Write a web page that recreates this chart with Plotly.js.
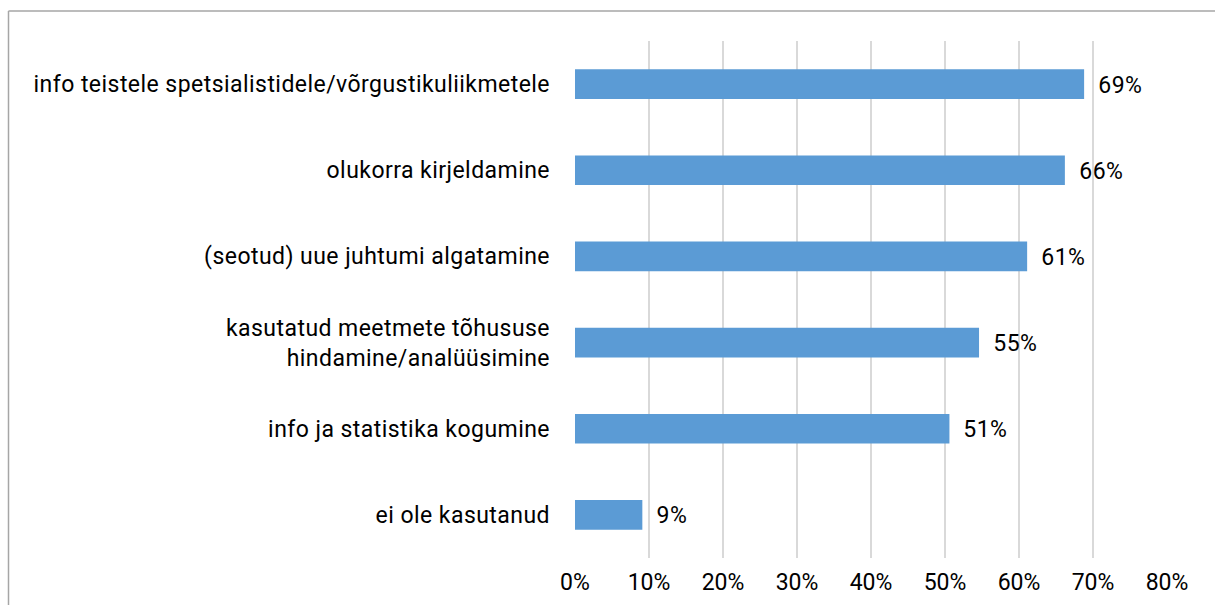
<!DOCTYPE html>
<html>
<head>
<meta charset="utf-8">
<script src="https://cdn.plot.ly/plotly-3.0.1.min.js"></script>
<style>
html,body{margin:0;padding:0;background:#fff;}
#chart{width:1215px;height:605px;}
#chart .ytick text, #chart .annotation-text{letter-spacing:0.45px;}
</style>
</head>
<body>
<div id="chart"></div>
<script>
// Categories, bottom to top
const categories = [
  "ei ole kasutanud",
  "info ja statistika kogumine",
  "kasutatud meetmete tõhususe<br>hindamine/analüüsimine",
  "(seotud) uue juhtumi algatamine",
  "olukorra kirjeldamine",
  "info teistele spetsialistidele/võrgustikuliikmetele"
];
const values = [9.1, 50.6, 54.6, 61.1, 66.2, 68.8];
const valueLabels = ["9%", "51%", "55%", "61%", "66%", "69%"];
const tickVals = [0, 10, 20, 30, 40, 50, 60, 70, 80];
const tickText = ["0%", "10%", "20%", "30%", "40%", "50%", "60%", "70%", "80%"];

const W = 1215, H = 605;
const L = 575, R = 48, T = 41, B = 47;
const pw = W - L - R, ph = H - T - B;
const px = x => (x - L) / pw;       // pixel -> paper x
const py = y => (H - B - y) / ph;   // pixel -> paper y

const font = {family: "Roboto, 'Noto Sans', sans-serif", size: 23, color: "#000"};

const trace = {
  type: "bar",
  orientation: "h",
  y: categories,
  x: values,
  marker: {color: "#5B9BD5"},
  hoverinfo: "skip",
  width: 0.345
};

const annotations = values.map((v, i) => ({
  x: v, y: categories[i], xref: "x", yref: "y",
  text: valueLabels[i], showarrow: false,
  xanchor: "left", yanchor: "middle", xshift: 13, yshift: -1,
  font: font
}));

const layout = {
  width: W, height: H,
  margin: {l: L, r: R, t: T, b: B, pad: 0},
  paper_bgcolor: "#fff", plot_bgcolor: "#fff",
  showlegend: false,
  font: font,
  xaxis: {
    range: [0, 80],
    tickvals: tickVals, ticktext: tickText,
    showgrid: true, gridcolor: "#d9d9d9", gridwidth: 1.5,
    zeroline: false, showline: false,
    ticks: "", ticklabelstandoff: 8,
    tickfont: font, fixedrange: true
  },
  yaxis: {
    type: "category",
    categoryorder: "array", categoryarray: categories,
    showgrid: false, zeroline: false, showline: false,
    ticks: "", ticklabelstandoff: 24,
    tickfont: font, fixedrange: true,
    range: [-0.5, 5.5]
  },
  annotations: annotations,
  shapes: [
    {type: "line", xref: "paper", yref: "paper",
     x0: px(8.5), x1: px(1220), y0: py(11), y1: py(11),
     line: {color: "#a6a6a6", width: 1.5}},
    {type: "line", xref: "paper", yref: "paper",
     x0: px(8.5), x1: px(8.5), y0: py(11), y1: py(610),
     line: {color: "#a6a6a6", width: 1.5}}
  ]
};

Plotly.newPlot("chart", [trace], layout, {displayModeBar: false, staticPlot: true});
</script>
</body>
</html>
